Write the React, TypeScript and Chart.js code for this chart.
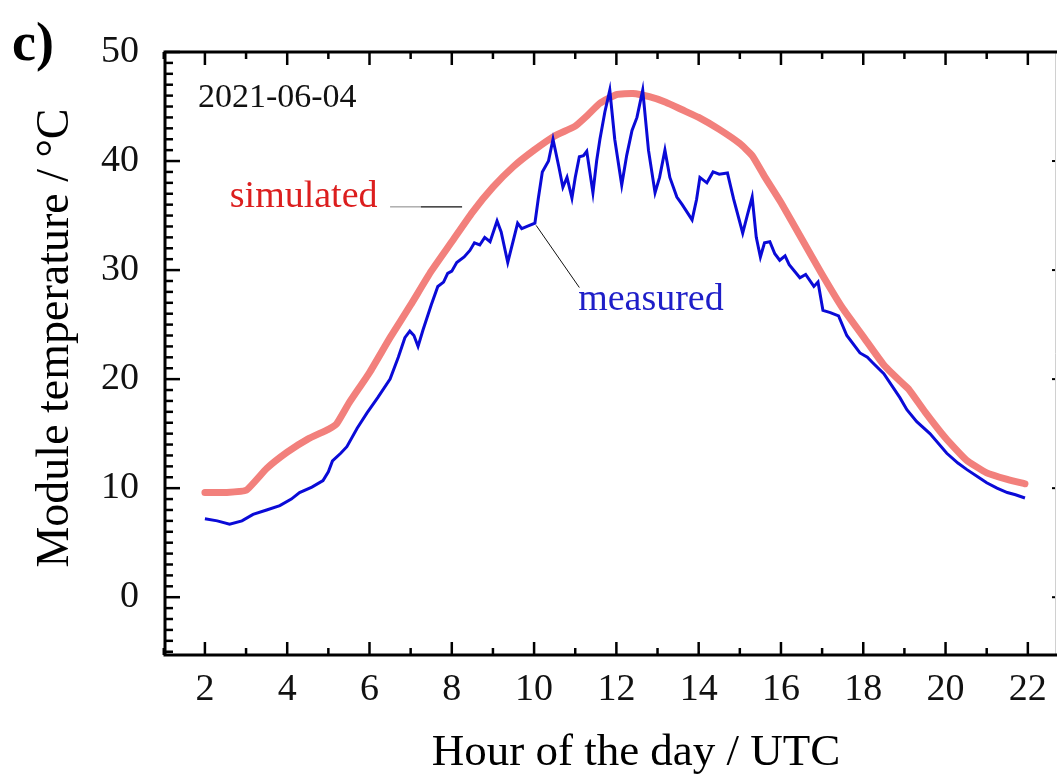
import { useEffect, useRef } from 'react';
import { Chart, registerables } from 'chart.js';

Chart.register(...registerables);

// ---- data ----
const simHours = [2.0, 2.5, 3.0, 3.5, 4.0, 4.5, 5.0, 5.2, 5.5, 6.0, 6.5, 7.0, 7.5, 8.0, 8.5, 9.0, 9.5, 10.0, 10.5, 11.0, 11.3, 11.6, 12.0, 12.4, 12.8, 13.2, 13.6, 14.0, 14.5, 15.0, 15.3, 15.6, 16.0, 16.5, 17.0, 17.5, 18.0, 18.5, 18.9, 19.1, 19.5, 20.0, 20.5, 21.0, 21.5, 21.93];
const simTemps = [9.6, 9.6, 9.8, 11.8, 13.3, 14.5, 15.4, 15.9, 17.8, 20.6, 23.8, 26.8, 29.9, 32.6, 35.3, 37.6, 39.5, 41.0, 42.3, 43.2, 44.2, 45.3, 46.1, 46.2, 45.9, 45.4, 44.7, 44.0, 42.9, 41.6, 40.5, 38.6, 36.2, 32.9, 29.6, 26.5, 23.9, 21.3, 19.8, 19.1, 17.0, 14.6, 12.6, 11.4, 10.8, 10.4];

const measHours = [2.0, 2.3, 2.6, 2.9, 3.17, 3.5, 3.82, 4.1, 4.3, 4.6, 4.87, 5.0, 5.1, 5.3, 5.45, 5.7, 5.94, 6.2, 6.5, 6.7, 6.86, 6.98, 7.08, 7.18, 7.3, 7.5, 7.66, 7.8, 7.9, 8.0, 8.12, 8.3, 8.44, 8.55, 8.68, 8.8, 8.93, 9.1, 9.2, 9.36, 9.48, 9.6, 9.7, 9.83, 10.02, 10.1, 10.2, 10.35, 10.46, 10.6, 10.7, 10.8, 10.92, 11.0, 11.1, 11.2, 11.28, 11.43, 11.52, 11.6, 11.72, 11.84, 11.96, 12.13, 12.25, 12.38, 12.5, 12.64, 12.78, 12.94, 13.05, 13.18, 13.3, 13.47, 13.6, 13.84, 13.95, 14.03, 14.2, 14.35, 14.5, 14.7, 14.85, 15.07, 15.18, 15.3, 15.4, 15.5, 15.6, 15.73, 15.85, 15.97, 16.1, 16.2, 16.46, 16.6, 16.8, 16.9, 17.02, 17.2, 17.4, 17.6, 17.92, 18.1, 18.23, 18.5, 18.89, 19.06, 19.3, 19.62, 20.03, 20.3, 20.52, 20.8, 21.0, 21.25, 21.5, 21.7, 21.93];
const measTemps = [7.2, 7.0, 6.7, 7.0, 7.6, 8.0, 8.4, 9.0, 9.6, 10.1, 10.7, 11.5, 12.5, 13.2, 13.8, 15.5, 16.9, 18.3, 20.0, 22.0, 23.8, 24.4, 24.0, 23.0, 24.5, 26.8, 28.5, 28.9, 29.7, 29.9, 30.7, 31.2, 31.8, 32.5, 32.3, 33.0, 32.6, 34.5, 33.5, 30.7, 32.5, 34.3, 33.8, 34.0, 34.3, 36.5, 39.0, 40.0, 42.0, 39.5, 37.6, 38.5, 36.6, 38.5, 40.4, 40.5, 40.9, 37.1, 40.0, 42.0, 44.5, 46.5, 42.0, 37.8, 40.5, 42.8, 44.0, 46.5, 41.0, 37.1, 38.5, 41.0, 38.5, 36.7, 36.0, 34.6, 36.5, 38.5, 38.0, 39.0, 38.8, 38.9, 36.5, 33.4, 35.0, 36.7, 33.0, 31.2, 32.5, 32.6, 31.5, 30.9, 31.3, 30.5, 29.3, 29.6, 28.5, 28.9, 26.3, 26.1, 25.8, 24.0, 22.4, 22.0, 21.5, 20.5, 18.3, 17.2, 16.1, 15.0, 13.2, 12.3, 11.7, 11.0, 10.5, 10.0, 9.6, 9.4, 9.1];

const xTickValues = [2, 4, 6, 8, 10, 12, 14, 16, 18, 20, 22];
const yTickValues = [0, 10, 20, 30, 40, 50];

const xTitle = 'Hour of the day / UTC';
const yTitle = 'Module temperature / °C';
const dateLabel = '2021-06-04';
const panelLabel = 'c)';
const simLabel = 'simulated';
const measLabel = 'measured';

// annotation anchors in data units
const simLabelPos = { x: 4.4, y: 36.7 };
const simLeader = [{ x: 6.5, y: 35.8 }, { x: 7.25, y: 35.8 }, { x: 8.25, y: 35.8 }];
const measLabelPos = { x: 12.84, y: 27.3 };
const measLeader = [{ x: 10.05, y: 34.1 }, { x: 11.1, y: 28.4 }];
const datePos = { x: 1.83, y: 45.8 };

const FONT = '"Liberation Serif", "Times New Roman", serif';

const framePlugin = {
  id: 'frame',
  afterDraw(chart: any) {
    const { ctx, chartArea: a, scales } = chart;
    const x = scales.x;
    const y = scales.y;
    ctx.save();

    ctx.strokeStyle = '#000';
    ctx.lineWidth = 2.5;
    const seg = (x1: number, y1: number, x2: number, y2: number) => {
      ctx.beginPath();
      ctx.moveTo(x1, y1);
      ctx.lineTo(x2, y2);
      ctx.stroke();
    };
    for (let v = 1; v <= 22; v++) {
      const px = x.getPixelForValue(v);
      const len = v % 2 === 0 ? 13 : 7;
      seg(px, a.bottom, px, a.bottom - len);
      seg(px, a.top, px, a.top + len);
    }
    for (let v = -5; v <= 50; v++) {
      const py = y.getPixelForValue(v);
      const len = v % 10 === 0 ? 15 : 8;
      seg(a.left, py, a.left + len, py);
    }

    // right border (faint, cut by image edge)
    ctx.strokeStyle = '#d0d0d0';
    ctx.lineWidth = 1;
    seg(a.right + 0.5, a.top, a.right + 0.5, a.bottom);
    ctx.strokeStyle = '#000';
    ctx.lineWidth = 2;
    for (const v of yTickValues) {
      const py = y.getPixelForValue(v);
      seg(a.right - 3, py, a.right, py);
    }

    // main frame lines
    ctx.strokeStyle = '#000';
    ctx.lineWidth = 3;
    ctx.beginPath();
    ctx.moveTo(a.left, a.top);
    ctx.lineTo(chart.width, a.top);
    ctx.moveTo(a.left, a.top - 1.5);
    ctx.lineTo(a.left, a.bottom + 1.5);
    ctx.moveTo(a.left, a.bottom);
    ctx.lineTo(chart.width, a.bottom);
    ctx.stroke();

    // leader lines
    ctx.lineWidth = 1.2;
    ctx.strokeStyle = '#999';
    seg(x.getPixelForValue(simLeader[0].x), y.getPixelForValue(simLeader[0].y), x.getPixelForValue(simLeader[1].x), y.getPixelForValue(simLeader[1].y));
    ctx.strokeStyle = '#111';
    seg(x.getPixelForValue(simLeader[1].x), y.getPixelForValue(simLeader[1].y), x.getPixelForValue(simLeader[2].x), y.getPixelForValue(simLeader[2].y));
    ctx.lineWidth = 1;
    seg(x.getPixelForValue(measLeader[0].x), y.getPixelForValue(measLeader[0].y), x.getPixelForValue(measLeader[1].x), y.getPixelForValue(measLeader[1].y));

    // texts
    ctx.textBaseline = 'middle';
    ctx.textAlign = 'center';
    ctx.font = `38px ${FONT}`;
    ctx.fillStyle = 'rgb(220,30,30)';
    ctx.fillText(simLabel, x.getPixelForValue(simLabelPos.x), y.getPixelForValue(simLabelPos.y));
    ctx.fillStyle = 'rgb(30,30,200)';
    ctx.fillText(measLabel, x.getPixelForValue(measLabelPos.x), y.getPixelForValue(measLabelPos.y));
    ctx.textAlign = 'left';
    ctx.fillStyle = '#111';
    ctx.font = `34px ${FONT}`;
    ctx.fillText(dateLabel, x.getPixelForValue(datePos.x), y.getPixelForValue(datePos.y));

    // panel label
    ctx.font = `bold 54px ${FONT}`;
    ctx.fillStyle = '#000';
    ctx.textBaseline = 'alphabetic';
    ctx.fillText(panelLabel, 12, 60);

    // axis titles
    ctx.font = `45px ${FONT}`;
    ctx.textAlign = 'center';
    ctx.fillText(xTitle, 636, 765);
    ctx.font = `46px ${FONT}`;
    ctx.save();
    ctx.translate(68, 338);
    ctx.rotate(-Math.PI / 2);
    ctx.fillText(yTitle, 0, 0);
    ctx.restore();

    ctx.restore();
  },
};

export default function App() {
  const canvasRef = useRef<HTMLCanvasElement | null>(null);

  useEffect(() => {
    const canvas = canvasRef.current;
    if (!canvas) return;
    const chart = new Chart(canvas, {
      type: 'line',
      data: {
        datasets: [
          {
            label: measLabel,
            data: measHours.map((h, i) => ({ x: h, y: measTemps[i] })),
            borderColor: 'rgb(10,10,215)',
            borderWidth: 3,
            pointRadius: 0,
            tension: 0,
            order: 0,
          },
          {
            label: simLabel,
            data: simHours.map((h, i) => ({ x: h, y: simTemps[i] })),
            borderColor: 'rgb(242,128,124)',
            borderWidth: 7,
            pointRadius: 0,
            tension: 0.15,
            borderCapStyle: 'round',
            order: 1,
          },
        ],
      },
      options: {
        animation: false,
        responsive: false,
        layout: { padding: { top: 52, right: 2, left: 0, bottom: 0 } },
        plugins: {
          legend: { display: false },
          tooltip: { enabled: false },
        },
        scales: {
          x: {
            type: 'linear',
            min: 1.03,
            max: 22.66,
            grid: { display: false },
            border: { display: false },
            ticks: {
              includeBounds: false,
              color: '#111',
              font: { family: FONT, size: 38 },
              padding: 4,
              maxRotation: 0,
              autoSkip: false,
            },
            afterBuildTicks: (scale: any) => {
              scale.ticks = xTickValues.map((v) => ({ value: v }));
            },
            afterFit: (scale: any) => {
              scale.height = 121;
            },
          },
          y: {
            type: 'linear',
            min: -5.3,
            max: 50,
            grid: { display: false },
            border: { display: false },
            ticks: {
              includeBounds: false,
              color: '#111',
              font: { family: FONT, size: 38 },
              padding: 18,
              autoSkip: false,
            },
            afterBuildTicks: (scale: any) => {
              scale.ticks = yTickValues.map((v) => ({ value: v }));
            },
            afterFit: (scale: any) => {
              scale.width = 165;
            },
          },
        },
      },
      plugins: [framePlugin],
    });
    return () => chart.destroy();
  }, []);

  return (
    <div style={{ position: 'absolute', left: 0, top: 0, width: 1057, height: 776, background: '#fff' }}>
      <canvas ref={canvasRef} width={1057} height={776} style={{ width: 1057, height: 776, display: 'block' }} />
    </div>
  );
}
